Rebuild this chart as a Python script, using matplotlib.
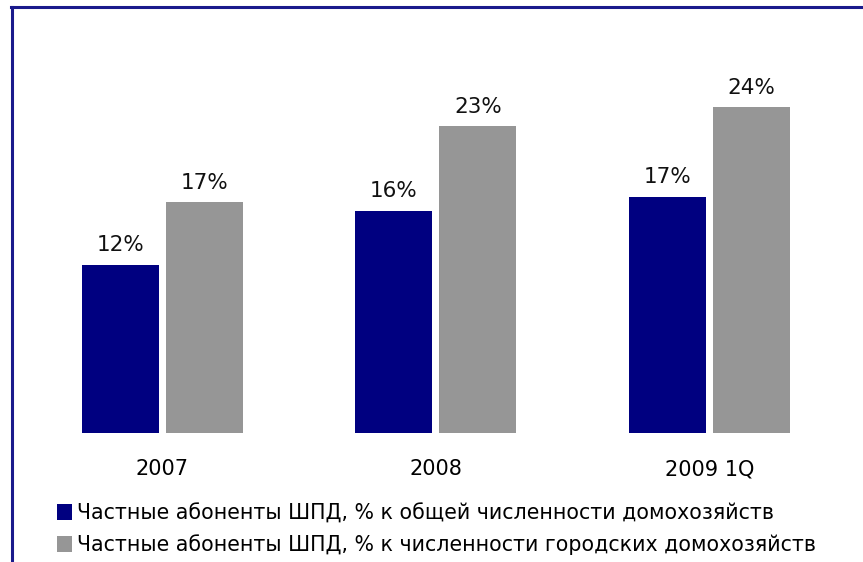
import matplotlib
matplotlib.use("Agg")
import matplotlib.pyplot as plt
from matplotlib.lines import Line2D
import numpy as np

years = ["2007", "2008", "2009 1Q"]
share_total = [12.4, 16.4, 17.4]
share_urban = [17.0, 22.6, 24.0]
series_names = [
    "Частные абоненты ШПД, % к общей численности домохозяйств",
    "Частные абоненты ШПД, % к численности городских домохозяйств",
]
colors = ["#000080", "#969696"]

plt.rcParams["font.family"] = ["DejaVu Sans"]

fig = plt.figure(figsize=(8.63, 5.62), dpi=100)
W, H = 863, 562
# plot area in pixels: x 25.75..846, y 26..433
ax = fig.add_axes([25.75 / W, (H - 433) / H, (846 - 25.75) / W, (433 - 26) / H])

x = np.arange(len(years))
bw = 0.2815
gap = 0.0256
off = (bw + gap) / 2
b1 = ax.bar(x - off, share_total, bw, color=colors[0], label=series_names[0])
b2 = ax.bar(x + off, share_urban, bw, color=colors[1], label=series_names[1])

for bars, vals in [(b1, share_total), (b2, share_urban)]:
    for rect, v in zip(bars, vals):
        ax.annotate(f"{v:.0f}%", (rect.get_x() + rect.get_width() / 2, v),
                    xytext=(0, 7), textcoords="offset points",
                    ha="center", va="bottom", fontsize=15.5, color="#111111")

ax.set_xlim(-0.5, 2.5)
ax.set_ylim(0, 30)
ax.set_xticks(x)
ax.set_xticklabels(years, fontsize=15)
ax.tick_params(axis="x", length=0, pad=19)
ax.set_yticks([])
for s in ax.spines.values():
    s.set_visible(False)

fig.legend(handles=[b1, b2], loc="upper left", bbox_to_anchor=(57 / W, 1 - 503 / H),
           frameon=False, fontsize=14.8, handlelength=0.72, handleheight=0.8,
           handletextpad=0.25, labelspacing=0.55, borderaxespad=0, borderpad=0)

# frame lines (top and left only)
fig.add_artist(Line2D([11 / W, 1], [1 - 7 / H, 1 - 7 / H], color="#1a1a8c", lw=2.2))
fig.add_artist(Line2D([11.5 / W, 11.5 / W], [0, 1 - 7 / H], color="#1a1a8c", lw=2.2))

fig.savefig("out.png", dpi=100)
